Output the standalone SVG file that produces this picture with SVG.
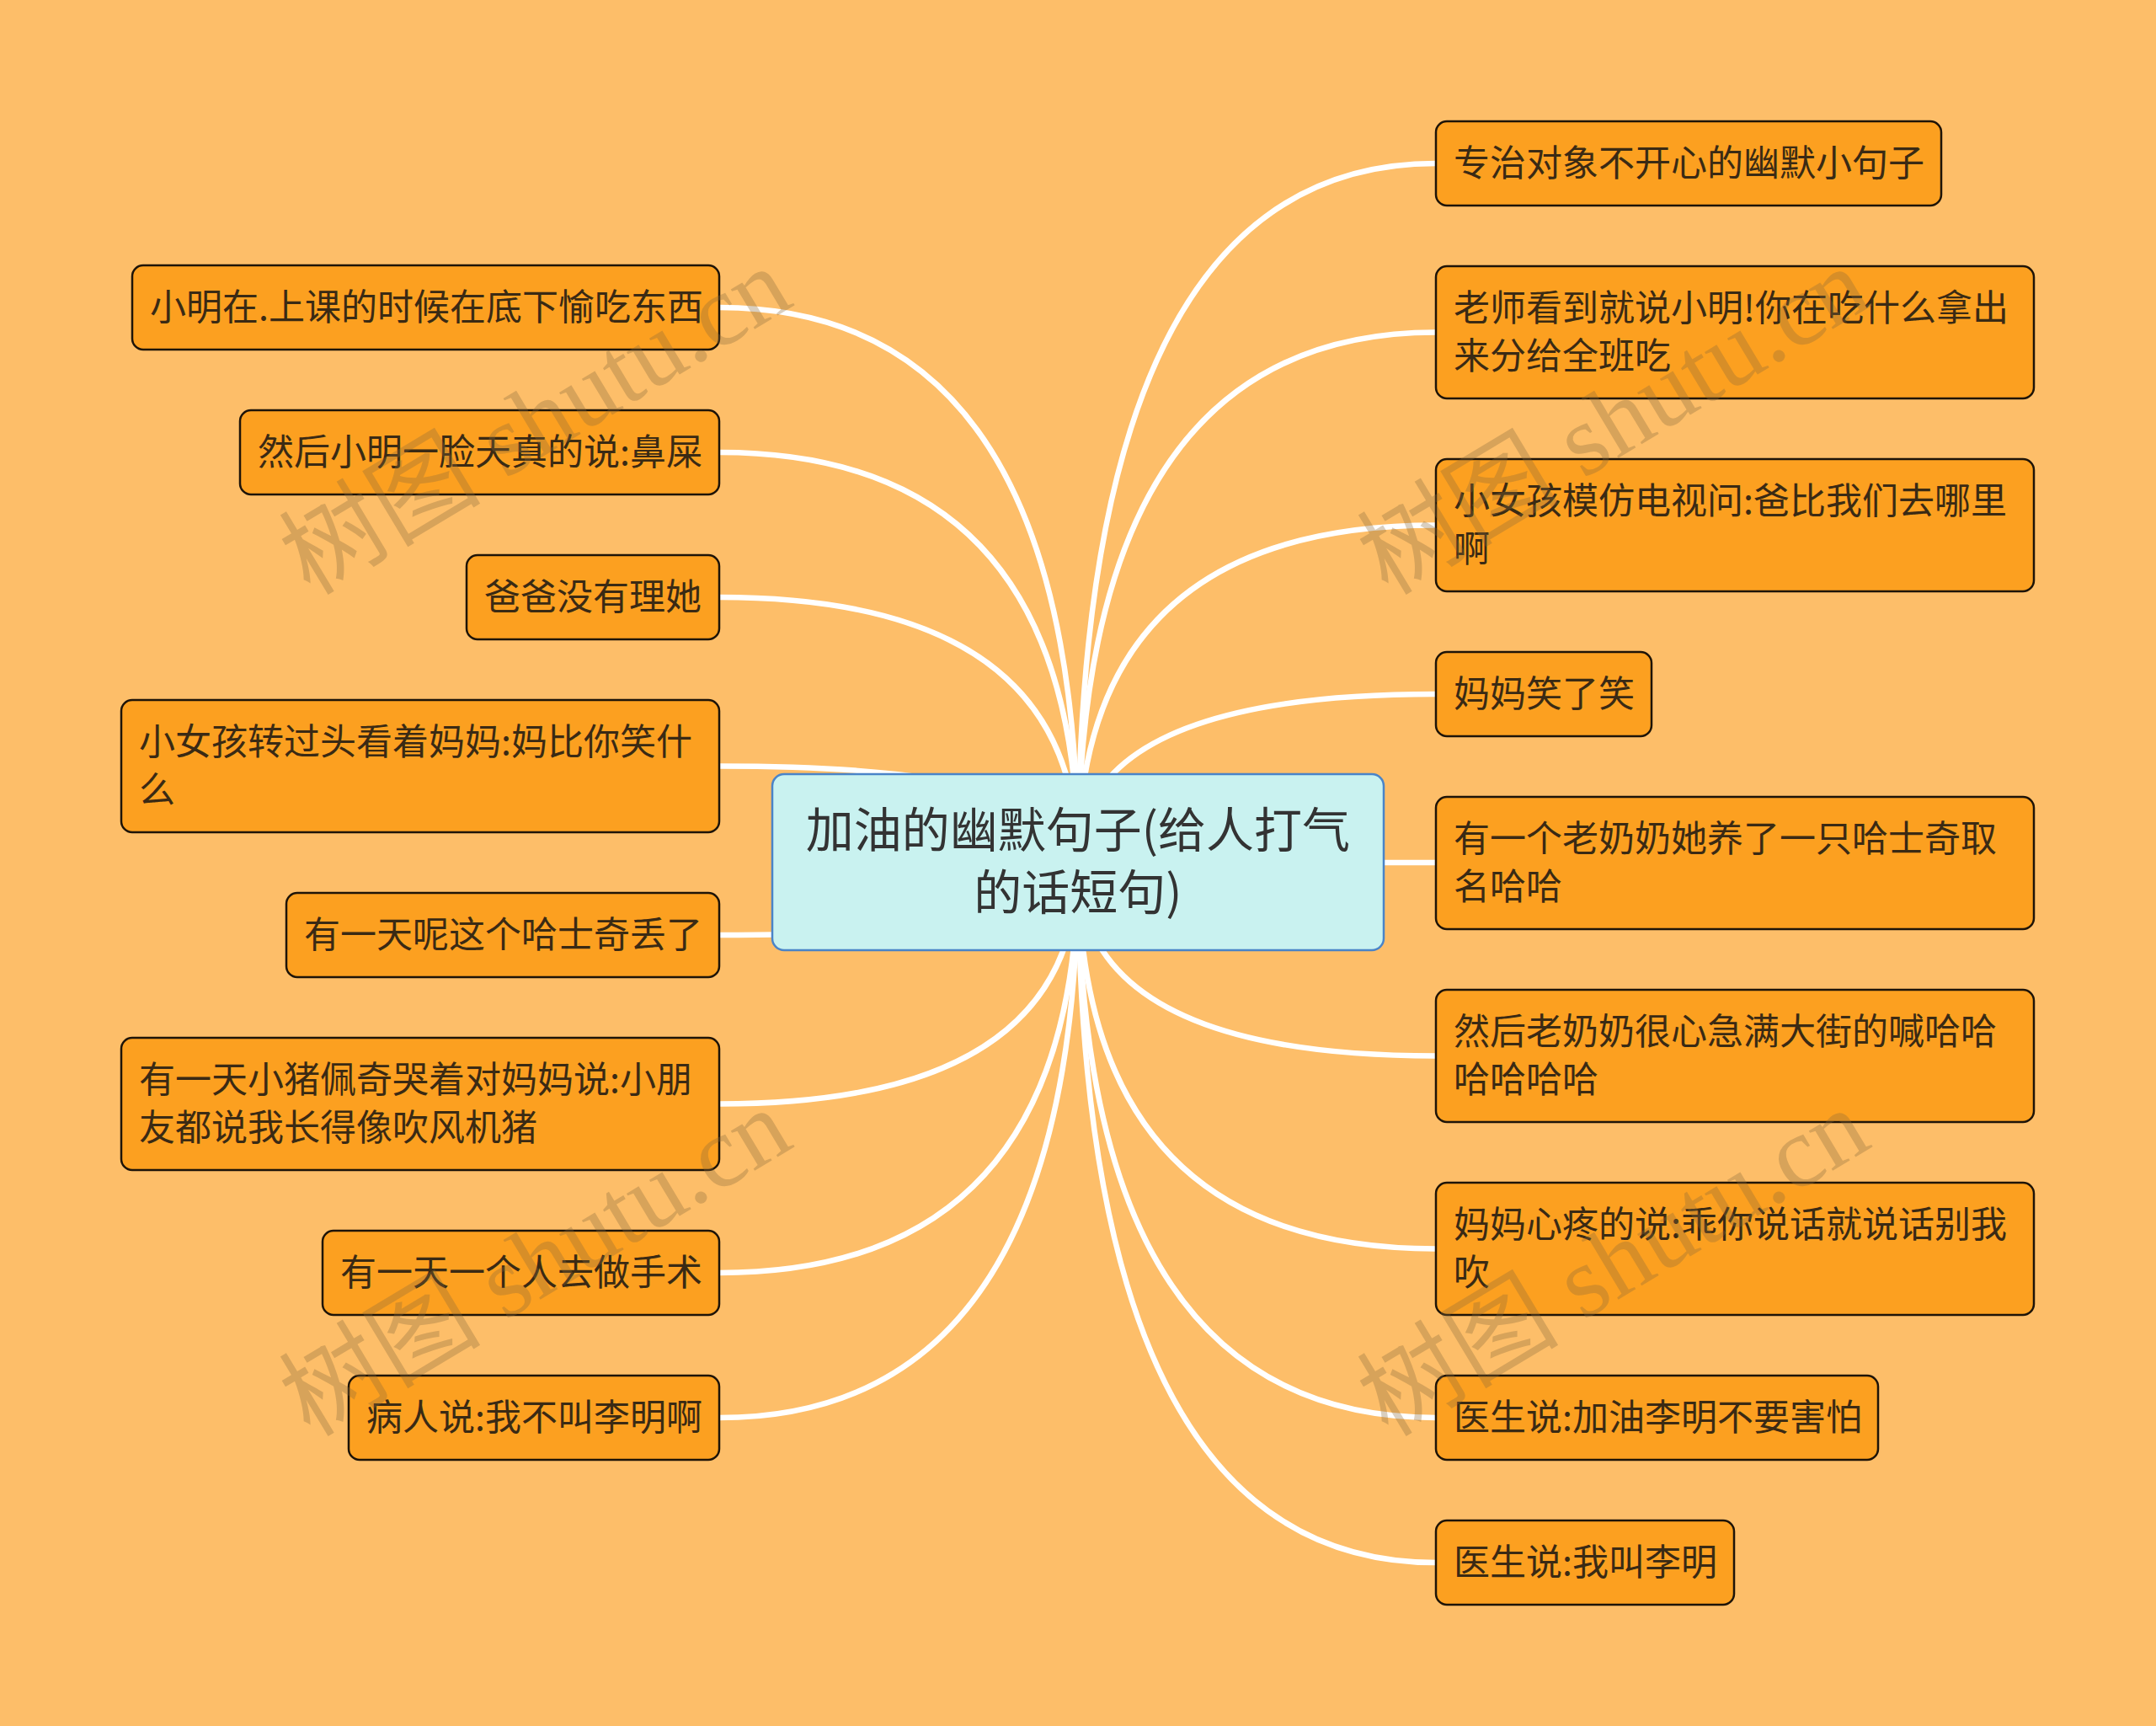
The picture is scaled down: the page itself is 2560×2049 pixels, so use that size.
<svg xmlns="http://www.w3.org/2000/svg" width="2560" height="2049" viewBox="0 0 2560 2049">
<style>
.bg{fill:#fdbe69}
.edge{fill:none;stroke:#ffffff;stroke-width:6.5;stroke-linecap:round}
.leaf rect{fill:#fca020;stroke:#1e1408;stroke-width:2.5}
.leaf text{font-family:"Noto Sans CJK SC","Noto Sans",sans-serif;font-size:43px;fill:#3a2a14}
.root rect{fill:#c9f2f0;stroke:#4a84c8;stroke-width:2.5}
.root text{font-family:"Noto Sans CJK SC","Noto Sans",sans-serif;font-size:57px;fill:#333333;text-anchor:middle}
.wm{font-family:"Liberation Serif","Noto Sans CJK SC",serif;font-size:120px;fill:#8a6a3a;fill-opacity:0.32}
</style>
<rect class="bg" x="0" y="0" width="2560" height="2049"/>
<g id="connectors">
<path class="edge" d="M1280 1024 Q1280 365 854 365"/>
<path class="edge" d="M1280 1024 Q1280 537 854 537"/>
<path class="edge" d="M1280 1024 Q1280 709 854 709"/>
<path class="edge" d="M1280 1024 Q1280 909.5 854 909.5"/>
<path class="edge" d="M1280 1024 Q1280 1110 854 1110"/>
<path class="edge" d="M1280 1024 Q1280 1310.5 854 1310.5"/>
<path class="edge" d="M1280 1024 Q1280 1511 854 1511"/>
<path class="edge" d="M1280 1024 Q1280 1683 854 1683"/>
<path class="edge" d="M1280 1024 Q1280 194 1705 194"/>
<path class="edge" d="M1280 1024 Q1280 394.5 1705 394.5"/>
<path class="edge" d="M1280 1024 Q1280 623.5 1705 623.5"/>
<path class="edge" d="M1280 1024 Q1280 824 1705 824"/>
<path class="edge" d="M1280 1024 L1705 1024"/>
<path class="edge" d="M1280 1024 Q1280 1253.5 1705 1253.5"/>
<path class="edge" d="M1280 1024 Q1280 1482.5 1705 1482.5"/>
<path class="edge" d="M1280 1024 Q1280 1683 1705 1683"/>
<path class="edge" d="M1280 1024 Q1280 1855 1705 1855"/>
</g>
<g id="root" class="root">
<rect x="917" y="919" width="726" height="209" rx="14"/>
<text x="1280" y="1006">加油的幽默句子(给人打气</text>
<text x="1280" y="1080">的话短句)</text>
</g>
<g id="L1" class="leaf"><rect x="157" y="315" width="697" height="100" rx="13"/><text x="178" y="380">小明在.上课的时候在底下愉吃东西</text></g>
<g id="L2" class="leaf"><rect x="285" y="487" width="569" height="100" rx="13"/><text x="306" y="552">然后小明一脸天真的说:鼻屎</text></g>
<g id="L3" class="leaf"><rect x="554" y="659" width="300" height="100" rx="13"/><text x="575" y="724">爸爸没有理她</text></g>
<g id="L4" class="leaf"><rect x="144" y="831" width="710" height="157" rx="13"/><text x="165" y="896">小女孩转过头看着妈妈:妈比你笑什</text><text x="165" y="953">么</text></g>
<g id="L5" class="leaf"><rect x="340" y="1060" width="514" height="100" rx="13"/><text x="361" y="1125">有一天呢这个哈士奇丢了</text></g>
<g id="L6" class="leaf"><rect x="144" y="1232" width="710" height="157" rx="13"/><text x="165" y="1297">有一天小猪佩奇哭着对妈妈说:小朋</text><text x="165" y="1354">友都说我长得像吹风机猪</text></g>
<g id="L7" class="leaf"><rect x="383" y="1461" width="471" height="100" rx="13"/><text x="404" y="1526">有一天一个人去做手术</text></g>
<g id="L8" class="leaf"><rect x="414" y="1633" width="440" height="100" rx="13"/><text x="435" y="1698">病人说:我不叫李明啊</text></g>
<g id="R1" class="leaf"><rect x="1705" y="144" width="600" height="100" rx="13"/><text x="1726" y="209">专治对象不开心的幽默小句子</text></g>
<g id="R2" class="leaf"><rect x="1705" y="316" width="710" height="157" rx="13"/><text x="1726" y="381">老师看到就说小明!你在吃什么拿出</text><text x="1726" y="438">来分给全班吃</text></g>
<g id="R3" class="leaf"><rect x="1705" y="545" width="710" height="157" rx="13"/><text x="1726" y="610">小女孩模仿电视问:爸比我们去哪里</text><text x="1726" y="667">啊</text></g>
<g id="R4" class="leaf"><rect x="1705" y="774" width="256" height="100" rx="13"/><text x="1726" y="839">妈妈笑了笑</text></g>
<g id="R5" class="leaf"><rect x="1705" y="946" width="710" height="157" rx="13"/><text x="1726" y="1011">有一个老奶奶她养了一只哈士奇取</text><text x="1726" y="1068">名哈哈</text></g>
<g id="R6" class="leaf"><rect x="1705" y="1175" width="710" height="157" rx="13"/><text x="1726" y="1240">然后老奶奶很心急满大街的喊哈哈</text><text x="1726" y="1297">哈哈哈哈</text></g>
<g id="R7" class="leaf"><rect x="1705" y="1404" width="710" height="157" rx="13"/><text x="1726" y="1469">妈妈心疼的说:乖你说话就说话别我</text><text x="1726" y="1526">吹</text></g>
<g id="R8" class="leaf"><rect x="1705" y="1633" width="525" height="100" rx="13"/><text x="1726" y="1698">医生说:加油李明不要害怕</text></g>
<g id="R9" class="leaf"><rect x="1705" y="1805" width="354" height="100" rx="13"/><text x="1726" y="1870">医生说:我叫李明</text></g>
<g id="watermarks">
<text class="wm" transform="translate(368 708) rotate(-31)">树图 shutu.cn</text>
<text class="wm" transform="translate(1648 708) rotate(-31)">树图 shutu.cn</text>
<text class="wm" transform="translate(368 1707) rotate(-31)">树图 shutu.cn</text>
<text class="wm" transform="translate(1648 1707) rotate(-31)">树图 shutu.cn</text>
</g>
</svg>
